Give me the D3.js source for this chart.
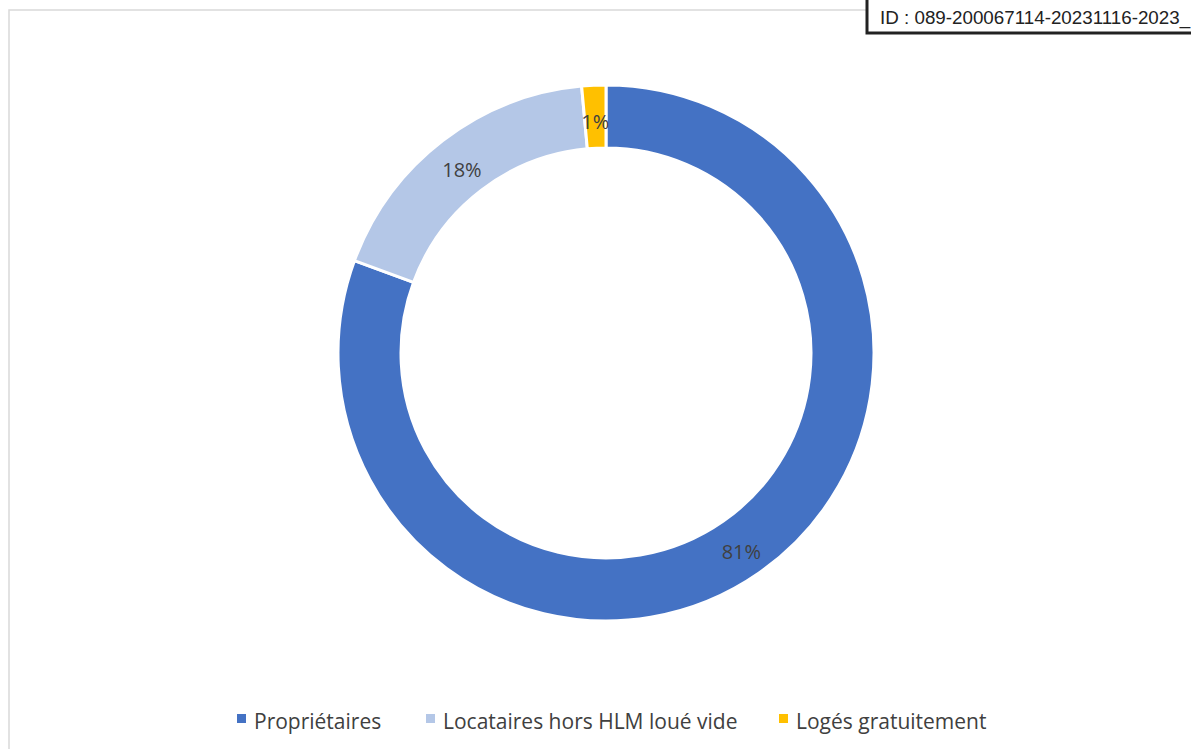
<!DOCTYPE html>
<html>
<head>
<meta charset="utf-8">
<script src="https://cdn.jsdelivr.net/npm/d3@7"></script>
<style>
  body { margin: 0; background: #fff; }
  svg { display: block; }
</style>
</head>
<body>
<svg id="donut" width="1191" height="749"></svg>
<script>
const categories = ["Propriétaires", "Locataires hors HLM loué vide", "Logés gratuitement"];
const values = [80.6, 17.95, 1.45];
const colors = ["#4472c4", "#b4c7e7", "#ffc000"];

const svg = d3.select("#donut"),
  width = +svg.attr("width"),
  height = +svg.attr("height");

// outer frame of the chart area
svg.append("rect")
  .attr("x", 9).attr("y", 10)
  .attr("width", 1200).attr("height", 760)
  .attr("fill", "none")
  .attr("stroke", "#d9d9d9")
  .attr("stroke-width", 1.5);

const cx = 606, cy = 353, outerR = 268, innerR = 205;
const g = svg.append("g").attr("transform", "translate(" + cx + "," + cy + ")");

const pie = d3.pie().sort(null).value(d => d);
const arc = d3.arc().innerRadius(innerR).outerRadius(outerR);
const total = d3.sum(values);

const arcs = g.selectAll(".arc")
  .data(pie(values))
  .enter()
  .append("g")
  .attr("class", "arc");

arcs.append("path")
  .attr("d", arc)
  .attr("fill", (d, i) => colors[i])
  .attr("stroke", "#fff")
  .attr("stroke-width", 3);

arcs.append("text")
  .attr("transform", d => "translate(" + arc.centroid(d) + ")")
  .attr("dy", "0.35em")
  .attr("y", 5)
  .attr("text-anchor", "middle")
  .attr("font-family", "'Open Sans', sans-serif")
  .attr("font-size", 20)
  .attr("fill", "#404040")
  .text(d => Math.round(d.data / total * 100) + "%");

// legend
const legendX = [237, 426, 779];
const legend = svg.selectAll(".legend")
  .data(categories)
  .enter()
  .append("g")
  .attr("class", "legend")
  .attr("transform", (d, i) => "translate(" + legendX[i] + ",714)");

legend.append("rect")
  .attr("width", 9).attr("height", 9)
  .attr("fill", (d, i) => colors[i]);

legend.append("text")
  .attr("x", 17).attr("y", 15)
  .attr("font-family", "'Open Sans', sans-serif")
  .attr("font-size", 21)
  .attr("fill", "#404040")
  .text(d => d);

// ID stamp top right
const stamp = svg.append("g");
stamp.append("rect")
  .attr("x", 867).attr("y", -10)
  .attr("width", 340).attr("height", 43)
  .attr("fill", "#fff")
  .attr("stroke", "#222")
  .attr("stroke-width", 3);
stamp.append("text")
  .attr("x", 880).attr("y", 24)
  .attr("font-family", "'Liberation Sans', Arial, sans-serif")
  .attr("font-size", 18.8)
  .attr("fill", "#222")
  .text("ID : 089-200067114-20231116-2023_");
</script>
</body>
</html>
